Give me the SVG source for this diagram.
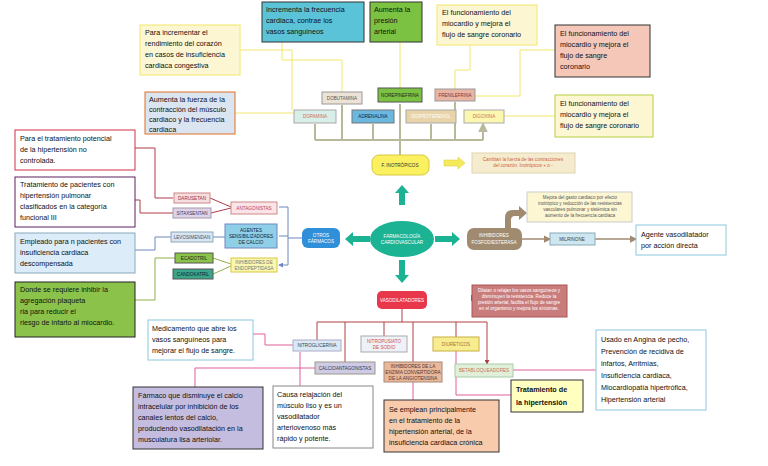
<svg xmlns="http://www.w3.org/2000/svg" width="768" height="466" viewBox="0 0 768 466">
<style>
text{font-family:"Liberation Sans",Arial,sans-serif}
.d{font-size:7.2px;fill:#111}
.s{font-size:4.6px;text-anchor:middle}
.c{fill:none;stroke-width:1}
</style>
<defs>
<marker id="a" viewBox="0 0 6 6" refX="5" refY="3" markerWidth="5" markerHeight="5" orient="auto"><path d="M0,0L6,3L0,6z" fill="context-stroke"/></marker>
</defs>
<rect width="768" height="466" fill="#fff"/>
<g id="connectors">
<g stroke="#f2e86a" class="c">
<path d="M240,50H292V110"/><path d="M342,92V60H282V42"/><path d="M400,88V42"/><path d="M455,89V70H470V45"/><path d="M475,96H520V50H555"/><path d="M504,116H555"/><path d="M235,113H294"/>
</g>
<g stroke="#b8b89a" stroke-width="2" fill="none">
<path d="M315,140H483M400,155V104" />
<path d="M315,140V124M342,140V105M373,140V124M431,140V124M455,140V102M483,140V124" marker-end="url(#a)"/>
</g>
<g stroke="#b23a48" class="c"><path d="M173,198H155V148H135"/><path d="M173,213H140V200H135"/><path d="M210,198L231,207M211,213L231,208"/></g>
<g stroke="#6f87c0" class="c"><path d="M302,238H288V207H279M288,236H279M288,238V265H279" marker-end="url(#a)"/><path d="M225,237H213M171,237H155V250H135"/></g>
<g stroke="#8fb04a" class="c"><path d="M213,258L231,264M213,274L231,266"/><path d="M175,258H155V300H135"/></g>
<g stroke="#a08a70" stroke-width="1.5" fill="none"><path d="M522,239H550" marker-end="url(#a)"/><path d="M595,239H636" marker-end="url(#a)"/></g>
<g stroke="#b04040" class="c">
<path d="M402,309V322M317,322H487"/>
<path d="M317,322V340M345,322V362M384,322V336M413,322V362M456,322V337M487,322V364" marker-end="url(#a)"/>
</g>
<g stroke="#e0609a" class="c">
<path d="M293,345H265V334H253"/><path d="M315,368H195V387"/><path d="M300,352V386"/><path d="M413,382V400"/><path d="M456,351V395H511"/><path d="M513,370H596"/>
</g>
</g>
<g id="arrows">
<path d="M402,185l-7,8h4v12h6v-12h4z" fill="#1bb394"/>
<path d="M345,239l8,-7v4h17v6h-17v4z" fill="#1bb394"/>
<path d="M460,239l-8,-7v4h-17v6h17v4z" fill="#1bb394"/>
<path d="M402,283l-7,-8h4v-15h6v15h4z" fill="#1bb394"/>
<path d="M465,163l-7,-6v3h-14v6h14v3z" fill="#f5ea5a" stroke="#d8c840" stroke-width=".5"/>
<path d="M492,298l-7,-7v4h-14v6h14v4z" fill="#e8364a"/>
<path d="M505,228v-10q0,-8 8,-8h6v-4l8,7l-8,7v-4h-4q-4,0 -4,4v8z" fill="#a08a70"/>
</g>
<g id="top-notes">
<rect x="140" y="25" width="100" height="50" fill="#fdf6d3" stroke="#f2e86a"/>
<text class="d"><tspan x="145" y="35">Para incrementar el</tspan><tspan x="145" y="46">rendimiento del corazón</tspan><tspan x="145" y="57">en casos de insuficiencia</tspan><tspan x="145" y="68">cardiaca congestiva</tspan></text>
<rect x="262" y="2" width="102" height="40" fill="#5bc3d8" stroke="#333"/>
<text class="d"><tspan x="266" y="12">Incrementa la frecuencia</tspan><tspan x="266" y="23">cardiaca, contrae los</tspan><tspan x="266" y="34">vasos sanguineos</tspan></text>
<rect x="370" y="2" width="52" height="40" fill="#7cc242" stroke="#333"/>
<text class="d"><tspan x="374" y="12">Aumenta la</tspan><tspan x="374" y="23">presión</tspan><tspan x="374" y="34">arterial</tspan></text>
<rect x="437" y="5" width="100" height="40" fill="#fdf6d3" stroke="#f2e86a"/>
<text class="d"><tspan x="442" y="15">El funcionamiento del</tspan><tspan x="442" y="26">miocardio y mejora el</tspan><tspan x="442" y="37">flujo de sangre coronario</tspan></text>
<rect x="555" y="25" width="95" height="52" fill="#f4c7b8" stroke="#333"/>
<text class="d"><tspan x="560" y="36">El funcionamiento del</tspan><tspan x="560" y="47">miocardio y mejora el</tspan><tspan x="560" y="58">flujo de sangre</tspan><tspan x="560" y="69">coronario</tspan></text>
<rect x="145" y="92" width="90" height="42" fill="#dbe5f1" stroke="#e07020"/>
<text class="d" font-size="6.5"><tspan x="149" y="102">Aumenta la fuerza de la</tspan><tspan x="149" y="112">contracción del músculo</tspan><tspan x="149" y="122">cardiaco y la frecuencia</tspan><tspan x="149" y="132">cardiaca</tspan></text>
<rect x="555" y="95" width="98" height="42" fill="#fdf6d3" stroke="#b8d040"/>
<text class="d"><tspan x="560" y="106">El funcionamiento del</tspan><tspan x="560" y="117">miocardio y mejora el</tspan><tspan x="560" y="128">flujo de sangre coronario</tspan></text>
</g>
<g id="inotropic-drugs">
<rect x="322" y="92" width="40" height="12" fill="#ece3d6" stroke="#999"/><text class="s" x="342" y="100" fill="#555">DOBUTAMINA</text>
<rect x="378" y="88" width="44" height="14" fill="#7cc242" stroke="#555"/><text class="s" x="400" y="97" fill="#222">NOREPINEFRINA</text>
<rect x="435" y="89" width="40" height="12" fill="#e8b4a4" stroke="#999"/><text class="s" x="455" y="97" fill="#833">FRENILEFRINA</text>
<rect x="294" y="110" width="42" height="13" fill="#d8eee8" stroke="#aaa"/><text class="s" x="315" y="118" fill="#d07050">DOPAMINA</text>
<rect x="352" y="110" width="42" height="13" fill="#6ab8e0" stroke="#777"/><text class="s" x="373" y="118" fill="#123">ADRENALINA</text>
<rect x="406" y="110" width="50" height="13" fill="#e8d4a8" stroke="#aaa"/><text class="s" x="431" y="118" fill="#fff">ISOPROTERENOL</text>
<rect x="464" y="110" width="40" height="13" fill="#fbf7b0" stroke="#aaa"/><text class="s" x="484" y="118" fill="#d07050">DIGOXINA</text>
</g>
<g id="inotropicos">
<rect x="372" y="155" width="57" height="20" rx="7" fill="#fbf160" stroke="#d8c840"/><text class="s" x="400" y="167" fill="#333">F. INOTRÓPICOS</text>
<rect x="472" y="153" width="103" height="20" fill="#f5ecd0" stroke="#e0d4b0"/><text class="s" x="523" y="161" fill="#d06040"><tspan x="523">Cambian la fuerza de las contracciones</tspan><tspan x="523" dy="6">del corazón. Inotrópicos + o -</tspan></text>
</g>
<g id="center">
<ellipse cx="402" cy="239" rx="32" ry="18" fill="#1bb394"/>
<text class="s" x="402" y="238" fill="#fff" font-size="5.2">FARMACOLOGÍA</text><text class="s" x="402" y="244" fill="#fff" font-size="5.2">CARDIOVASCULAR</text>
</g>
<g id="otros">
<rect x="302" y="228" width="38" height="20" rx="6" fill="#2f8fd8"/><text class="s" x="321" y="237" fill="#fff">OTROS</text><text class="s" x="321" y="243" fill="#fff">FÁRMACOS</text>
<rect x="231" y="202" width="46" height="12" fill="#fbe4e8" stroke="#c88"/><text class="s" x="254" y="210" fill="#c04050">ANTAGONISTAS</text>
<rect x="225" y="224" width="52" height="24" fill="#8fd0e8" stroke="#6f87c0"/><text class="s" x="251" y="232" fill="#123">AGENTES</text><text class="s" x="251" y="238" fill="#123">SENSIBILIZADORES</text><text class="s" x="251" y="244" fill="#123">DE CALCIO</text>
<rect x="231" y="258" width="46" height="14" fill="#fbf7b0" stroke="#d8c840"/><text class="s" x="254" y="264" fill="#777">INHIBIDORES DE</text><text class="s" x="254" y="270" fill="#777">ENDOPEPTIDASA</text>
<rect x="174" y="193" width="36" height="10" fill="#f6dde0" stroke="#c88"/><text class="s" x="192" y="200" fill="#a03040">DARUSETAN</text>
<rect x="173" y="208" width="38" height="10" fill="#ddd3e8" stroke="#a9a"/><text class="s" x="192" y="215" fill="#503050">SITAXSENTAN</text>
<rect x="171" y="232" width="42" height="10" fill="#dbe5f1" stroke="#8ab"/><text class="s" x="192" y="239" fill="#456">LEVOSIMENDAN</text>
<rect x="175" y="253" width="38" height="10" fill="#8bc34a" stroke="#555"/><text class="s" x="194" y="260" fill="#222">ECADOTRIL</text>
<rect x="173" y="269" width="40" height="10" fill="#3aa58a" stroke="#555"/><text class="s" x="193" y="276" fill="#123">CANDOKATRIL</text>
</g>
<g id="left-notes">
<rect x="15" y="130" width="120" height="40" fill="#fff" stroke="#d03040"/>
<text class="d"><tspan x="20" y="141">Para el tratamiento potencial</tspan><tspan x="20" y="152">de la hipertensión no</tspan><tspan x="20" y="163">controlada.</tspan></text>
<rect x="15" y="177" width="120" height="50" fill="#fff" stroke="#602060"/>
<text class="d"><tspan x="20" y="187">Tratamiento de pacientes con</tspan><tspan x="20" y="198">hipertensión pulmonar</tspan><tspan x="20" y="209">clasificados en la categoría</tspan><tspan x="20" y="220">funcional III</tspan></text>
<rect x="15" y="233" width="120" height="40" fill="#dcecf8" stroke="#8ab"/>
<text class="d"><tspan x="20" y="244">Empleado para n pacientes con</tspan><tspan x="20" y="255">insuficiencia cardiaca</tspan><tspan x="20" y="266">descompensada</tspan></text>
<rect x="15" y="282" width="120" height="55" fill="#8bc34a" stroke="#222"/>
<text class="d"><tspan x="20" y="292">Donde se requiere inhibir la</tspan><tspan x="20" y="303">agregación plaqueta</tspan><tspan x="20" y="314">ria para reducir el</tspan><tspan x="20" y="325">riesgo de infarto al miocardio.</tspan></text>
</g>
<g id="pde">
<rect x="467" y="228" width="55" height="22" rx="7" fill="#a08a70"/><text class="s" x="494" y="237" fill="#fff">INHIBIDORES</text><text class="s" x="494" y="244" fill="#fff">FOSFODIESTERASA</text>
<rect x="527" y="192" width="105" height="30" fill="#fdf6d3" stroke="#ccc"/>
<text class="s" x="580" y="199" fill="#555"><tspan x="580">Mejora del gasto cardiaco por efecto</tspan><tspan x="580" dy="6">inotrópico y reducción de las resistencias</tspan><tspan x="580" dy="6">vasculares pulmonar y sistémica sin</tspan><tspan x="580" dy="6">aumento de la frecuencia cardiaca</tspan></text>
<rect x="550" y="233" width="45" height="12" fill="#cde6f0" stroke="#8ab"/><text class="s" x="572" y="241" fill="#345">MILRINONE</text>
<rect x="636" y="225" width="90" height="30" fill="#fff" stroke="#8cc8e0"/>
<text class="d"><tspan x="641" y="237">Agente vasodilatador</tspan><tspan x="641" y="248">por acción directa</tspan></text>
</g>
<g id="vaso">
<rect x="377" y="291" width="50" height="18" rx="5" fill="#e8364a"/><text class="s" x="402" y="302" fill="#fff">VASODILATADORES</text>
<rect x="472" y="285" width="95" height="32" fill="#c97c7c" stroke="#a55"/>
<text class="s" x="519" y="292" fill="#fff"><tspan x="519">Dilatan o relajan los vasos sanguíneos y</tspan><tspan x="519" dy="6">disminuyen la resistencia. Reduce la</tspan><tspan x="519" dy="6">presión arterial, facilita el flujo de sangre</tspan><tspan x="519" dy="6">en el organismo y mejora los síntomas.</tspan></text>
<rect x="293" y="340" width="48" height="11" fill="#dbe9f5" stroke="#aac"/><text class="s" x="317" y="347" fill="#345">NITROGLICERINA</text>
<rect x="361" y="336" width="46" height="16" fill="#eef2f8" stroke="#aaa"/><text class="s" x="384" y="343" fill="#d05050">NITROPUSIATO</text><text class="s" x="384" y="349" fill="#d05050">DE SODIO</text>
<rect x="433" y="337" width="46" height="14" fill="#f8ec90" stroke="#c8b040"/><text class="s" x="456" y="346" fill="#b07030">DIURETICOS</text>
<rect x="315" y="362" width="60" height="12" fill="#cfcbe6" stroke="#998"/><text class="s" x="345" y="370" fill="#333">CALCIOANTAGONISTAS</text>
<rect x="384" y="362" width="58" height="20" fill="#e8b89a" stroke="#a87"/><text class="s" x="413" y="368" fill="#533">INHIBIDORES DE LA</text><text class="s" x="413" y="374" fill="#533">ENZIMA CONVERTIDORA</text><text class="s" x="413" y="380" fill="#533">DE LA ANGIOTENSINA</text>
<rect x="455" y="364" width="58" height="13" fill="#e0f0d8" stroke="#aca"/><text class="s" x="484" y="372" fill="#d07050">BETABLOQUEADORES</text>
</g>
<g id="bottom-notes">
<rect x="148" y="320" width="105" height="40" fill="#fff" stroke="#8cc8e0"/>
<text class="d"><tspan x="152" y="331">Medicamento que abre los</tspan><tspan x="152" y="342">vasos sanguíneos para</tspan><tspan x="152" y="353">mejorar el flujo de sangre.</tspan></text>
<rect x="133" y="387" width="130" height="62" fill="#c5bddf" stroke="#333"/>
<text class="d"><tspan x="138" y="398">Fármaco que disminuye el calcio</tspan><tspan x="138" y="409">intracelular por inhibición de los</tspan><tspan x="138" y="420">canales lentos del calcio,</tspan><tspan x="138" y="431">produciendo vasodilatación en la</tspan><tspan x="138" y="442">musculatura lisa arteriolar.</tspan></text>
<rect x="273" y="386" width="100" height="62" fill="#fff" stroke="#888"/>
<text class="d"><tspan x="277" y="397">Causa relajación del</tspan><tspan x="277" y="408">músculo liso y es un</tspan><tspan x="277" y="419">vasodilatador</tspan><tspan x="277" y="430">arteriovenoso más</tspan><tspan x="277" y="441">rápido y potente.</tspan></text>
<rect x="384" y="400" width="115" height="52" fill="#f8cbad" stroke="#333"/>
<text class="d"><tspan x="389" y="412">Se emplean principalmente</tspan><tspan x="389" y="423">en el tratamiento de la</tspan><tspan x="389" y="434">hipertensión arterial, de la</tspan><tspan x="389" y="445">insuficiencia cardiaca crónica</tspan></text>
<rect x="511" y="380" width="72" height="32" fill="#ffffc0" stroke="#333"/>
<text class="d" font-weight="bold" font-size="7.5"><tspan x="516" y="392">Tratamiento de</tspan><tspan x="516" y="405">la hipertensión</tspan></text>
<rect x="596" y="330" width="110" height="80" fill="#fff" stroke="#8cc8e0"/>
<text class="d"><tspan x="601" y="342">Usado en Angina de pecho,</tspan><tspan x="601" y="354">Prevención de recidiva de</tspan><tspan x="601" y="366">infartos, Arritmias,</tspan><tspan x="601" y="378">Insuficiencia cardiaca,</tspan><tspan x="601" y="390">Miocardiopatía hipertrófica,</tspan><tspan x="601" y="402">Hipertensión arterial</tspan></text>
</g>
</svg>
